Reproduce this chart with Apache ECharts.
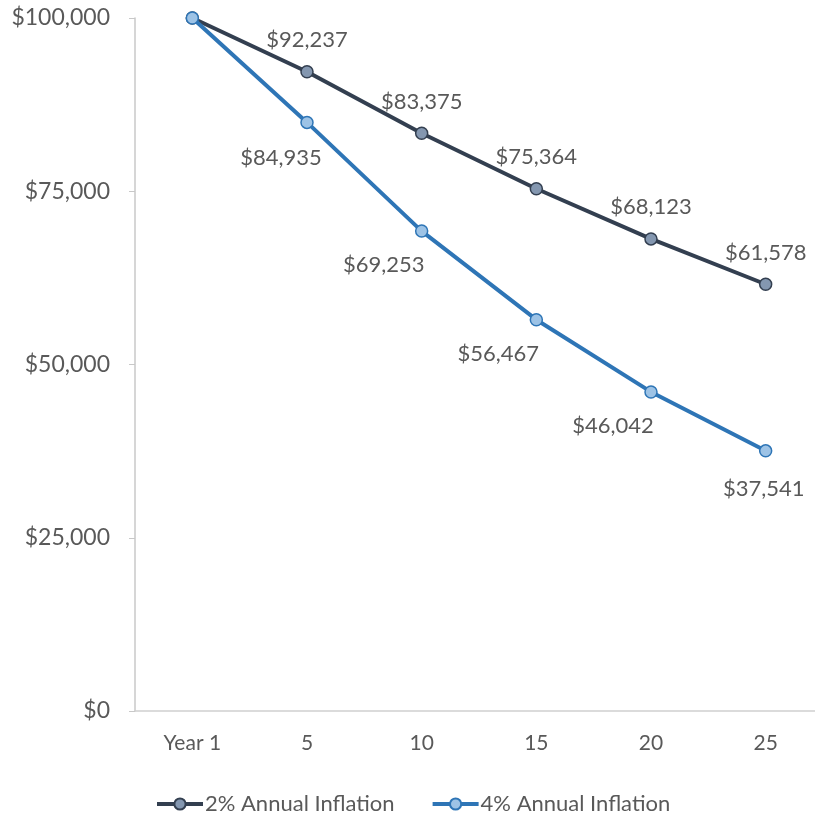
<!DOCTYPE html>
<html>
<head>
  <meta charset="utf-8">
  <title>Inflation purchasing power</title>
  <script src="https://cdn.jsdelivr.net/npm/echarts@6/dist/echarts.min.js"></script>
</head>
<body style="margin: 0">
  <div id="chart" style="width: 815px; height: 820px;"></div>
  <script>
    var years = ['Year 1', '5', '10', '15', '20', '25'];
    var infl2 = [100000, 92237, 83375, 75364, 68123, 61578];
    var infl4 = [100000, 84935, 69253, 56467, 46042, 37541];
    var yTicks = [0, 25000, 50000, 75000, 100000];

    var font = 'Lato, "Noto Sans", sans-serif';
    var textColor = '#595959';

    function money(v) {
      return '$' + v.toLocaleString('en-US');
    }

    // first point has no label; blue labels sit below-left, the last straight below
    var data2 = infl2.map(function (v, i) {
      return { value: v, label: { show: i > 0 } };
    });
    var data4 = infl4.map(function (v, i) {
      var off = [-38, 34];
      if (i === 1) off = [-26, 36];
      if (i === infl4.length - 1) off = [-2, 38];
      return { value: v, label: { show: i > 0, offset: off } };
    });

    var chart = echarts.init(document.getElementById('chart'));
    chart.setOption({
      backgroundColor: '#fff',
      animation: false,
      textStyle: { fontFamily: font },
      grid: { left: 135, width: 688, top: 18, bottom: 109, outerBoundsMode: 'none', containLabel: false },
      legend: {
        bottom: 0,
        left: 150,
        itemWidth: 46,
        itemHeight: 14,
        itemGap: 36,
        lineStyle: { width: 4 },
        textStyle: { fontSize: 22, color: textColor, fontFamily: font, padding: [0, 0, 0, -3] },
        data: ['2% Annual Inflation', '4% Annual Inflation']
      },
      xAxis: {
        type: 'category',
        data: years,
        boundaryGap: true,
        axisLine: { lineStyle: { color: '#d0d0d0', width: 1.5 } },
        axisTick: { show: false },
        axisLabel: { color: textColor, fontSize: 21, margin: 22 }
      },
      yAxis: {
        type: 'value',
        min: yTicks[0],
        max: yTicks[yTicks.length - 1],
        interval: yTicks[1] - yTicks[0],
        splitLine: { show: false },
        axisLine: { show: true, lineStyle: { color: '#c8c8c8', width: 1.5 } },
        axisTick: { show: true, length: 6, lineStyle: { color: '#c8c8c8' } },
        axisLabel: { color: textColor, fontSize: 23, margin: 25, formatter: money }
      },
      series: [
        {
          name: '2% Annual Inflation',
          type: 'line',
          data: data2,
          symbol: 'circle',
          symbolSize: 12,
          lineStyle: { color: '#333f50', width: 4 },
          itemStyle: { color: '#8497b0', borderColor: '#333f50', borderWidth: 1.5 },
          label: {
            position: 'top',
            distance: 14,
            color: textColor,
            fontSize: 22,
            formatter: function (p) { return money(p.value); }
          },
          z: 3
        },
        {
          name: '4% Annual Inflation',
          type: 'line',
          data: data4,
          symbol: 'circle',
          symbolSize: 12,
          lineStyle: { color: '#2e75b6', width: 4 },
          itemStyle: { color: '#9dc3e6', borderColor: '#2e75b6', borderWidth: 1.5 },
          label: {
            position: 'inside',
            color: textColor,
            fontSize: 22,
            formatter: function (p) { return money(p.value); }
          },
          z: 4
        }
      ]
    });
  </script>
</body>
</html>
